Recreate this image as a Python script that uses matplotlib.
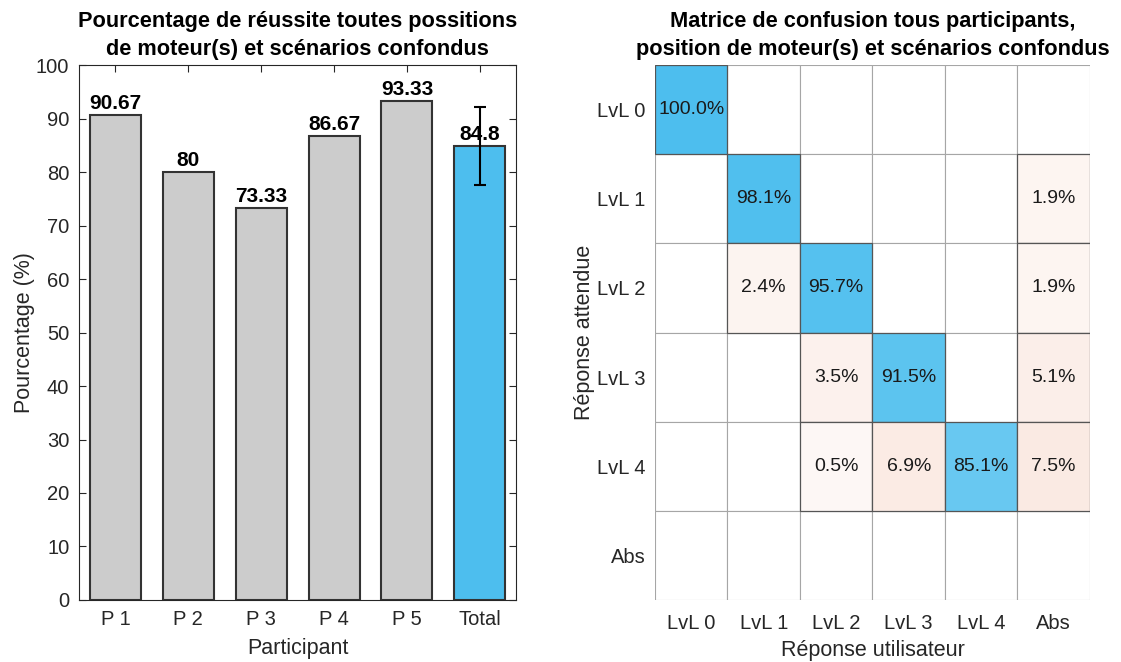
import numpy as np
import matplotlib.pyplot as plt
from matplotlib.patches import Rectangle
from matplotlib.colors import to_rgb

plt.rcParams['font.family'] = ['Liberation Sans', 'DejaVu Sans']

# --- data ---
participants = ['P 1', 'P 2', 'P 3', 'P 4', 'P 5']
scores = [90.67, 80, 73.33, 86.67, 93.33]

levels = ['LvL 0', 'LvL 1', 'LvL 2', 'LvL 3', 'LvL 4', 'Abs']
# rows = expected answer, cols = user answer (percent, row-normalised)
conf = [
    [100.0, 0, 0, 0, 0, 0],
    [0, 98.1, 0, 0, 0, 1.9],
    [0, 2.4, 95.7, 0, 0, 1.9],
    [0, 0, 3.5, 91.5, 0, 5.1],
    [0, 0, 0.5, 6.9, 85.1, 7.5],
    [0, 0, 0, 0, 0, 0],
]

total = np.mean(scores)
total_std = np.std(scores)

grey = '#cccccc'
blue = '#4dbeee'
orange = '#d95319'
edge = '#333333'
txt = '#262626'

fig = plt.figure(figsize=(11.21, 6.62), dpi=100)

# --- left: bar chart ---
ax = fig.add_axes([0.0705, 0.0937, 0.390, 0.808])
labels = participants + ['Total']
vals = scores + [total]
x = np.arange(1, len(labels) + 1)
colors = [grey] * len(scores) + [blue]
ax.bar(x, vals, width=0.7, color=colors, edgecolor=edge, linewidth=1.5, zorder=2)
ax.errorbar(x[-1], total, yerr=total_std, color='black', capsize=4,
            elinewidth=1.5, capthick=1.5, zorder=4)
for xi, v in zip(x, vals):
    ax.text(xi, v + 0.4, f'{v:g}', ha='center', va='bottom',
            fontsize=15, fontweight='bold', zorder=3)
ax.set_xlim(0.5, 6.5)
ax.set_ylim(0, 100)
ax.set_yticks(np.arange(0, 101, 10))
ax.set_xticks(x)
ax.set_xticklabels(labels)
ax.tick_params(direction='in', top=True, right=True, labelsize=14.5,
               colors=txt, length=5, width=0.8, pad=7)
for s in ax.spines.values():
    s.set_color(txt)
    s.set_linewidth(0.8)
ax.set_xlabel('Participant', fontsize=15.5, color=txt, labelpad=7)
ax.set_ylabel('Pourcentage (%)', fontsize=15.5, color=txt, labelpad=1)
ax.set_title('Pourcentage de réussite toutes possitions\nde moteur(s) et scénarios confondus',
             fontsize=15.7, fontweight='bold', pad=7, linespacing=1.45)

# --- right: confusion matrix ---
ax2 = fig.add_axes([0.5843, 0.0937, 0.388, 0.808])
n = len(levels)
white = np.array([1.0, 1.0, 1.0])
b_rgb = np.array(to_rgb(blue))
o_rgb = np.array(to_rgb(orange))
for i in range(n):
    for j in range(n):
        v = conf[i][j]
        if v <= 0:
            ax2.add_patch(Rectangle((j - 0.5, i - 0.5), 1, 1, facecolor='white',
                                    edgecolor='#a6a6a6', linewidth=0.8, zorder=1))
            continue
        if i == j:
            t = v / 100.0
            c = white + t * (b_rgb - white)
        else:
            t = 0.04 + 0.011 * v
            c = white + t * (o_rgb - white)
        ax2.add_patch(Rectangle((j - 0.5, i - 0.5), 1, 1, facecolor=c,
                                edgecolor='#555555', linewidth=0.9, zorder=2))
        ax2.text(j, i, f'{v:.1f}%', ha='center', va='center', fontsize=14,
                 color='#1a1a1a', zorder=3)
ax2.set_xlim(-0.5, n - 0.5)
ax2.set_ylim(n - 0.5, -0.5)
ax2.set_xticks(range(n))
ax2.set_yticks(range(n))
ax2.set_xticklabels(levels)
ax2.set_yticklabels(levels)
ax2.tick_params(axis='x', length=0, labelsize=14.5, colors=txt, pad=10)
ax2.tick_params(axis='y', length=0, labelsize=14.5, colors=txt, pad=7)
for s in ax2.spines.values():
    s.set_visible(False)
ax2.set_xlabel('Réponse utilisateur', fontsize=15.5, color=txt, labelpad=5)
ax2.set_ylabel('Réponse attendue', fontsize=15.5, color=txt, labelpad=1)
ax2.set_title('Matrice de confusion tous participants,\nposition de moteur(s) et scénarios confondus',
              fontsize=15.7, fontweight='bold', pad=7, linespacing=1.45)

fig.savefig('out.png', dpi=100)
